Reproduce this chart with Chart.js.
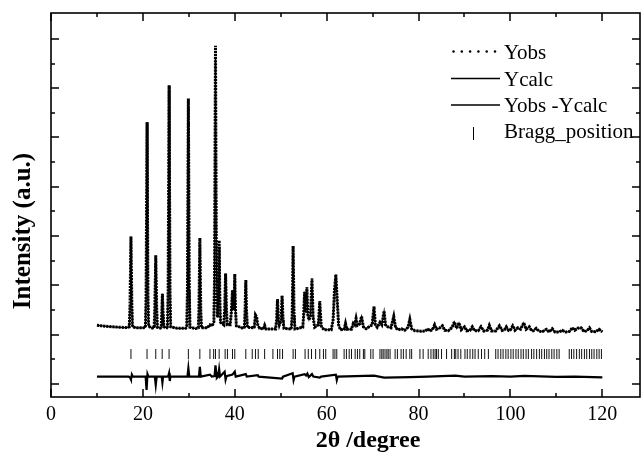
<!DOCTYPE html>
<html>
<head>
<meta charset="utf-8">
<script src="https://cdn.jsdelivr.net/npm/chart.js@4/dist/chart.umd.min.js"></script>
<style>
html,body{margin:0;padding:0;background:#fff;overflow:hidden;}
#wrap{width:641px;height:458px;}
canvas{display:block;}
</style>
</head>
<body>
<div id="wrap"><canvas id="c" width="641" height="458"></canvas></div>
<script>
// ---- data ----
const twoTheta = [
10.0, 11.0, 12.0, 13.5, 15.0, 16.5, 17.05, 17.2, 17.4, 17.6,
17.75, 18.5, 20.0, 20.55, 20.7, 20.9, 21.1, 21.25, 22.0, 22.45,
22.6, 22.8, 23.0, 23.15, 23.8, 24.0, 24.1, 24.25, 24.4, 24.55,
25.2, 25.35, 25.5, 25.7, 25.9, 26.05, 27.5, 29.3, 29.55, 29.7,
29.9, 30.1, 30.25, 31.5, 32.05, 32.2, 32.4, 32.6, 32.75, 34.0,
34.6, 35.1, 35.45, 35.6, 35.8, 36.0, 36.25, 36.45, 36.6, 36.75,
36.9, 37.6, 37.8, 38.0, 38.2, 38.35, 39.0, 39.25, 39.5, 39.7,
39.85, 40.0, 40.15, 40.35, 41.8, 42.1, 42.25, 42.4, 42.55, 42.75,
44.2, 44.35, 44.5, 44.75, 45.0, 45.4, 46.2, 46.5, 46.8, 48.9,
49.1, 49.3, 49.5, 49.7, 50.1, 50.3, 50.5, 50.7, 52.3, 52.5,
52.7, 52.9, 53.1, 54.8, 55.0, 55.2, 55.4, 55.7, 55.9, 56.15,
56.5, 56.8, 57.05, 57.4, 58.2, 58.5, 58.8, 59.4, 61.0, 61.4,
61.7, 62.0, 62.3, 62.6, 63.0, 63.8, 64.1, 64.4, 65.4, 65.8,
66.1, 66.4, 66.7, 67.2, 67.6, 68.0, 68.6, 69.9, 70.3, 70.6,
71.0, 71.6, 72.0, 72.5, 72.8, 73.3, 74.0, 74.6, 75.0, 75.6,
76.3, 77.0, 77.7, 78.1, 78.5, 79.2, 80.5, 81.5, 82.0, 82.5,
83.0, 83.5, 83.9, 84.5, 85.2, 85.7, 86.5, 87.3, 87.8, 88.3,
88.8, 89.3, 90.0, 90.5, 91.2, 91.7, 92.2, 93.0, 93.6, 94.2,
95.0, 95.4, 95.9, 96.8, 97.6, 98.2, 98.7, 99.1, 99.6, 100.0,
100.5, 101.0, 101.6, 102.2, 102.9, 103.4, 104.1, 104.6, 105.0, 105.6,
106.2, 107.0, 107.8, 108.4, 109.1, 109.7, 110.5, 111.3, 112.0, 112.8,
113.5, 114.0, 114.6, 115.4, 116.0, 116.7, 117.2, 117.7, 118.5, 119.3,
120.0
];
const yObs = [
1190, 1180, 1170, 1160, 1150, 1145, 1160, 1600, 2990, 1600,
1160, 1140, 1140, 1150, 1800, 5310, 1800, 1170, 1135, 1150,
1550, 2610, 1550, 1150, 1135, 1160, 1400, 1830, 1400, 1160,
1140, 1160, 1900, 6060, 1900, 1160, 1130, 1130, 1170, 1900,
5790, 1900, 1150, 1125, 1140, 1500, 2960, 1500, 1140, 1140,
1200, 1180, 1260, 2200, 6860, 2300, 1350, 1700, 2910, 1700,
1250, 1200, 1500, 2240, 1500, 1200, 1200, 1450, 1900, 1500,
1600, 2230, 1500, 1180, 1130, 1150, 1500, 2110, 1500, 1150,
1140, 1250, 1400, 1360, 1200, 1130, 1115, 1190, 1115, 1115,
1300, 1720, 1300, 1200, 1300, 1790, 1300, 1130, 1115, 1400,
2800, 1400, 1115, 1150, 1400, 1870, 1450, 1960, 1400, 1300,
1400, 2140, 1350, 1150, 1200, 1680, 1180, 1100, 1100, 1300,
1900, 2220, 1700, 1200, 1100, 1110, 1230, 1110, 1110, 1230,
1200, 1330, 1190, 1220, 1370, 1160, 1120, 1200, 1570, 1200,
1150, 1250, 1200, 1480, 1200, 1160, 1140, 1370, 1140, 1100,
1120, 1090, 1150, 1310, 1120, 1080, 1070, 1075, 1120, 1075,
1100, 1200, 1110, 1130, 1180, 1090, 1080, 1150, 1260, 1130,
1240, 1100, 1160, 1080, 1090, 1160, 1080, 1080, 1160, 1075,
1090, 1190, 1075, 1075, 1180, 1085, 1100, 1160, 1085, 1100,
1180, 1090, 1140, 1110, 1240, 1110, 1160, 1080, 1080, 1130,
1070, 1065, 1110, 1055, 1120, 1055, 1055, 1085, 1055, 1065,
1140, 1090, 1130, 1140, 1065, 1080, 1140, 1065, 1060, 1110,
1055
];
const yCalc = [
1190, 1180, 1170, 1160, 1150, 1145, 1160, 1600, 2990, 1600,
1160, 1140, 1140, 1150, 1800, 5310, 1800, 1170, 1135, 1150,
1550, 2600, 1550, 1150, 1135, 1160, 1400, 1830, 1400, 1160,
1140, 1160, 1900, 6050, 1900, 1160, 1130, 1130, 1170, 1900,
5690, 1900, 1150, 1125, 1140, 1500, 2800, 1500, 1140, 1140,
1200, 1180, 1260, 2200, 6630, 2300, 1350, 1700, 2780, 1700,
1250, 1200, 1500, 2240, 1500, 1200, 1200, 1450, 1900, 1500,
1600, 2230, 1500, 1180, 1130, 1150, 1500, 2110, 1500, 1150,
1140, 1250, 1400, 1360, 1200, 1130, 1115, 1190, 1115, 1115,
1300, 1720, 1300, 1200, 1300, 1790, 1300, 1130, 1115, 1400,
2800, 1400, 1115, 1150, 1400, 1870, 1450, 1960, 1400, 1300,
1400, 2140, 1350, 1150, 1200, 1680, 1180, 1100, 1100, 1300,
1900, 2220, 1700, 1200, 1100, 1110, 1230, 1110, 1110, 1230,
1200, 1330, 1190, 1220, 1370, 1160, 1120, 1200, 1570, 1200,
1150, 1250, 1200, 1480, 1200, 1160, 1140, 1370, 1140, 1100,
1120, 1090, 1150, 1310, 1120, 1080, 1070, 1075, 1120, 1075,
1100, 1200, 1110, 1130, 1180, 1090, 1080, 1150, 1260, 1130,
1240, 1100, 1160, 1080, 1090, 1160, 1080, 1080, 1160, 1075,
1090, 1190, 1075, 1075, 1180, 1085, 1100, 1160, 1085, 1100,
1180, 1090, 1140, 1110, 1240, 1110, 1160, 1080, 1080, 1130,
1070, 1065, 1110, 1055, 1120, 1055, 1055, 1085, 1055, 1065,
1140, 1090, 1130, 1140, 1065, 1080, 1140, 1065, 1060, 1110,
1055
];
// difference curve (offset as plotted)
const diffTheta = [
10.0, 16.9, 17.2, 17.4, 17.6, 17.8, 20.6, 20.8, 21.0, 21.2,
22.6, 22.8, 23.0, 24.1, 24.25, 24.4, 25.5, 25.7, 25.85, 26.0,
29.7, 29.9, 30.1, 32.2, 32.4, 32.6, 34.6, 35.0, 35.6, 35.8,
35.95, 36.1, 36.4, 36.6, 36.8, 37.8, 38.0, 38.2, 39.5, 40.0,
40.2, 42.4, 42.6, 45.0, 45.2, 50.3, 50.5, 52.6, 52.8, 53.0,
55.2, 55.5, 55.8, 56.1, 56.8, 57.1, 58.5, 58.8, 62.0, 62.2,
62.4, 70.3, 72.5, 78.1, 82.0, 88.0, 90.0, 96.0, 100.0, 103.0,
110.0, 114.0, 120.0
];
const yDiff = [
150, 150, 130, 90, 190, 150, 150, -120, 200, 150,
150, -20, 150, 150, 30, 150, 150, 220, 60, 150,
150, 320, 150, 150, 350, 150, 190, 150, 160, 380,
250, 120, 150, 300, 150, 250, 90, 160, 190, 250,
150, 200, 150, 180, 150, 110, 150, 220, 80, 150,
200, 170, 210, 140, 200, 150, 130, 150, 190, 80,
150, 170, 130, 140, 150, 170, 150, 160, 150, 165,
145, 150, 135
];
const braggPositions = [
17.4, 20.9, 22.8, 24.2, 25.7, 29.9, 32.4, 34.6, 35.4, 35.8,
36.6, 37.9, 38.4, 39.5, 40.0, 42.4, 43.8, 44.5, 45.1, 46.5,
48.3, 49.3, 49.8, 50.4, 52.7, 53.2, 55.3, 56.0, 56.7, 57.6,
58.5, 59.3, 59.8, 61.4, 61.8, 62.2, 63.8, 64.3, 64.9, 65.4,
66.2, 66.7, 67.2, 68.0, 68.3, 69.6, 70.1, 71.6, 72.0, 72.3,
72.7, 73.1, 73.4, 73.8, 74.9, 75.4, 76.2, 76.7, 77.3, 78.1,
78.5, 80.3, 81.0, 82.1, 82.7, 83.2, 83.6, 83.9, 84.3, 85.0,
86.1, 87.2, 87.8, 88.1, 88.6, 89.2, 90.1, 90.6, 91.2, 91.8,
92.3, 93.0, 93.7, 94.4, 95.2, 96.8, 97.3, 97.9, 98.4, 99.0,
99.5, 100.1, 100.6, 101.2, 101.7, 102.3, 102.8, 103.4, 103.9, 104.6,
105.1, 105.7, 106.3, 106.8, 107.4, 107.9, 108.4, 109.0, 109.5, 110.1,
110.6, 112.8, 113.3, 113.8, 114.4, 115.0, 115.5, 116.1, 116.6, 117.2,
117.7, 118.2, 118.8, 119.3, 119.8
];
const xTickLabels = [0, 20, 40, 60, 80, 100, 120];
const xMinorTicks = [10, 30, 50, 70, 90, 110];
const yMajorTicks = [0, 1000, 2000, 3000, 4000, 5000, 6000, 7000];
const yMinorTicks = [500, 1500, 2500, 3500, 4500, 5500, 6500];
const legendLabels = ['Yobs', 'Ycalc', 'Yobs -Ycalc', 'Bragg_position'];
const xTitle = '2\u03b8 /degree';
const yTitle = 'Intensity (a.u.)';

// ---- build chart ----
const BRAGG_LEVEL = 608;
const pts = (xs, ys) => xs.map((x, i) => ({x: x, y: ys[i]}));
const SERIF = '"Liberation Serif", "Times New Roman", serif';

const framePlugin = {
  id: 'frame',
  afterDraw(chart) {
    const {ctx, chartArea: a, scales} = chart;
    const xs = scales.x, ys = scales.y;
    ctx.save();
    ctx.strokeStyle = '#000';
    ctx.fillStyle = '#000';
    ctx.lineWidth = 1.6;
    ctx.strokeRect(a.left, a.top, a.right - a.left, a.bottom - a.top);
    const tw = 1.5;
    const xTick = (v, len) => {
      const px = Math.round(xs.getPixelForValue(v));
      ctx.fillRect(px - tw / 2, a.bottom - len, tw, len);
      ctx.fillRect(px - tw / 2, a.top, tw, len);
    };
    const yTick = (v, len) => {
      const py = Math.round(ys.getPixelForValue(v));
      ctx.fillRect(a.left, py - tw / 2, len, tw);
      ctx.fillRect(a.right - len, py - tw / 2, len, tw);
    };
    xTickLabels.forEach(v => xTick(v, 8));
    xMinorTicks.forEach(v => xTick(v, 4));
    yMajorTicks.forEach(v => yTick(v, 8));
    yMinorTicks.forEach(v => yTick(v, 4));

    // axis titles
    ctx.font = 'bold 24px ' + SERIF;
    ctx.textAlign = 'center';
    ctx.textBaseline = 'alphabetic';
    ctx.fillText(xTitle, 368, 447);
    ctx.save();
    ctx.translate(30, 231);
    ctx.rotate(-Math.PI / 2);
    ctx.font = 'bold 25px ' + SERIF;
    ctx.fillText(yTitle, 0, 0);
    ctx.restore();

    // legend
    ctx.font = '21px ' + SERIF;
    ctx.textAlign = 'left';
    const tx = 504;
    const base = [59, 86, 112, 138];
    for (let i = 0; i < 6; i++) {
      ctx.beginPath();
      ctx.arc(453.5 + i * 8.3, 51.5, 1.25, 0, Math.PI * 2);
      ctx.fill();
    }
    ctx.fillText(legendLabels[0], tx, base[0]);
    ctx.lineWidth = 1.3;
    ctx.beginPath();
    ctx.moveTo(451, 78.5); ctx.lineTo(500, 78.5);
    ctx.moveTo(451, 105); ctx.lineTo(500, 105);
    ctx.stroke();
    ctx.fillText(legendLabels[1], tx, base[1]);
    ctx.fillText(legendLabels[2], tx, base[2]);
    ctx.fillRect(473, 127, 1, 13);
    ctx.fillText(legendLabels[3], tx, base[3]);
    ctx.restore();
  }
};

new Chart(document.getElementById('c'), {
  type: 'scatter',
  data: {
    datasets: [
      {
        label: legendLabels[1],
        data: pts(twoTheta, yCalc),
        showLine: true,
        borderColor: '#000',
        borderWidth: 1.2,
        pointRadius: 0,
        order: 0
      },
      {
        label: legendLabels[0],
        data: pts(twoTheta, yObs),
        showLine: true,
        borderColor: '#000',
        borderWidth: 3,
        borderDash: [2.2, 0.9],
        pointRadius: 0,
        order: 1
      },
      {
        label: legendLabels[2],
        data: pts(diffTheta, yDiff),
        showLine: true,
        borderColor: '#000',
        borderWidth: 2.2,
        pointRadius: 0,
        order: 2
      },
      {
        label: legendLabels[3],
        data: braggPositions.map(p => ({x: p, y: BRAGG_LEVEL})),
        showLine: false,
        pointStyle: 'line',
        rotation: 90,
        pointRadius: 5,
        borderColor: '#111',
        borderWidth: 1,
        order: 3
      }
    ]
  },
  options: {
    responsive: false,
    devicePixelRatio: 1,
    animation: false,
    events: [],
    layout: {autoPadding: false, padding: {top: 13, right: 1, left: 0, bottom: 0}},
    plugins: {legend: {display: false}, tooltip: {enabled: false}},
    scales: {
      x: {
        type: 'linear',
        min: 0,
        max: 128.2,
        afterFit(s) { s.height = 61; s.paddingLeft = 0; s.paddingRight = 0; },
        grid: {display: false, drawTicks: false},
        border: {display: false},
        ticks: {
          stepSize: 10,
          includeBounds: false,
          autoSkip: false,
          maxRotation: 0,
          padding: 6,
          color: '#000',
          font: {family: SERIF, size: 20},
          callback: v => xTickLabels.includes(v) ? String(v) : ''
        }
      },
      y: {
        type: 'linear',
        min: -264,
        max: 7525,
        afterFit(s) { s.width = 51; s.paddingTop = 0; s.paddingBottom = 0; },
        grid: {display: false, drawTicks: false},
        border: {display: false},
        ticks: {stepSize: 500, includeBounds: false, display: false}
      }
    }
  },
  plugins: [framePlugin]
});
</script>
</body>
</html>
